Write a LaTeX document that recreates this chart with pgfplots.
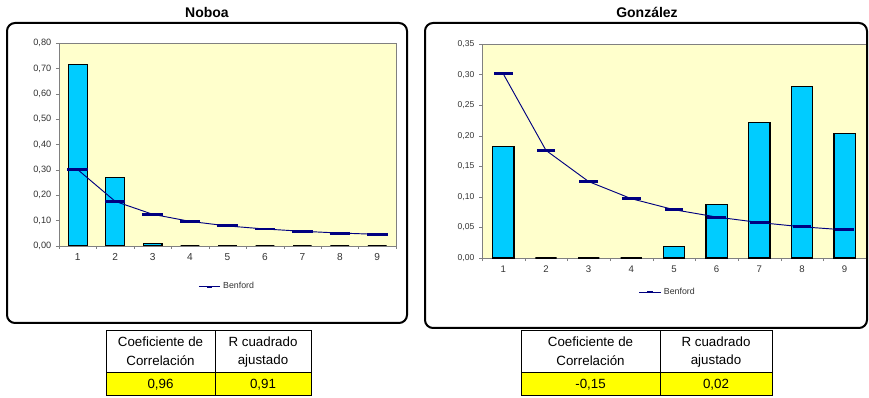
\documentclass[border=0pt]{standalone}
\usepackage{pgfplots}
\pgfplotsset{compat=1.18}
\usepackage{fontspec}
\setmainfont{Liberation Sans}
\definecolor{barcyan}{HTML}{00CCFF}
\definecolor{plotbg}{HTML}{FFFFCC}
\definecolor{benf}{HTML}{000080}
\definecolor{axgray}{HTML}{808080}
\definecolor{ticktext}{HTML}{333333}
\definecolor{tabyellow}{HTML}{FFFF00}
\pgfkeys{/pgf/number format/assume math mode=true}
\pgfplotsset{
  excel/.style={
    scale only axis,
    axis background/.style={fill=plotbg},
    axis line style={axgray},
    xmin=0.5, xmax=9.5, ymin=0,
    xtick={1,2,3,4,5,6,7,8,9},
    xticklabels={1,2,3,4,5,6,7,8,9},
    minor xtick={0.5,1.5,2.5,3.5,4.5,5.5,6.5,7.5,8.5,9.5},
    major x tick style={draw=none},
    minor x tick style={axgray},
    y tick style={axgray},
    tick align=outside, xtick pos=bottom, ytick pos=left,
    major tick length=2.25pt, minor tick length=2.25pt,
    yticklabel style={/pgf/number format/.cd, fixed, fixed zerofill, precision=2, use comma, /tikz/.cd, text=ticktext},
    xticklabel style={text=ticktext},
    legend style={draw=none, fill=none, font=\fontsize{6.6}{8}\selectfont, text=ticktext, inner sep=1pt},
    legend image code/.code={
      \draw[benf, line width=0.7pt] (0pt,0pt) -- (16pt,0pt);
      \draw[benf, line width=1.6pt] (6pt,0pt) -- (10pt,0pt);
    },
  }
}
\begin{document}
\begin{tikzpicture}
\useasboundingbox (0,0) rectangle (651.75pt,297.75pt);

% ---------- Left panel: Noboa ----------
\node[font=\bfseries\fontsize{10.5}{12}\selectfont] at (155.25pt,288.5pt) {Noboa};
\begin{axis}[excel,
  at={(44.25pt,113.25pt)}, anchor=south west,
  width=252.75pt, height=152.25pt,
  ymax=0.8, ytick={0,0.1,0.2,0.3,0.4,0.5,0.6,0.7,0.8},
  yticklabel style={font=\fontsize{6.9}{8}\selectfont},
  xticklabel style={font=\fontsize{7.6}{9}\selectfont},
  legend style={at={(0.5,-0.2)}, anchor=center},
]
\addplot[ybar, bar width=0.5, fill=barcyan, draw=black, line width=0.8pt, forget plot]
  coordinates {(1,0.715) (2,0.270) (3,0.010) (4,0) (5,0) (6,0) (7,0) (8,0) (9,0)};
\addplot[benf, line width=0.7pt, mark=-, mark size=7.7pt, mark options={line width=2.2pt}]
  coordinates {(1,0.301) (2,0.176) (3,0.125) (4,0.097) (5,0.079) (6,0.067) (7,0.058) (8,0.051) (9,0.046)};
\addlegendentry{Benford}
\end{axis}
\draw[black, line width=1.5pt, rounded corners=6pt] (5.25pt,55.5pt) rectangle (305.25pt,280.5pt);

% ---------- Right panel: González ----------
\node[font=\bfseries\fontsize{10.5}{12}\selectfont] at (485.25pt,288.5pt) {González};
\begin{axis}[excel,
  at={(361.5pt,104.25pt)}, anchor=south west,
  width=288pt, height=160.5pt,
  ymax=0.35, ytick={0,0.05,0.1,0.15,0.2,0.25,0.3,0.35},
  yticklabel style={font=\fontsize{6.4}{8}\selectfont},
  xticklabel style={font=\fontsize{7.2}{9}\selectfont},
  legend style={at={(0.485,-0.16)}, anchor=center},
]
\addplot[ybar, bar width=0.5, fill=barcyan, draw=black, line width=0.8pt, forget plot]
  coordinates {(1,0.183) (2,0) (3,0) (4,0) (5,0.019) (6,0.087) (7,0.222) (8,0.281) (9,0.204)};
\addplot[benf, line width=0.7pt, mark=-, mark size=7pt, mark options={line width=2.2pt}]
  coordinates {(1,0.301) (2,0.176) (3,0.125) (4,0.097) (5,0.079) (6,0.067) (7,0.058) (8,0.051) (9,0.046)};
\addlegendentry{Benford}
\end{axis}
\draw[black, line width=1.5pt, rounded corners=6pt] (318.75pt,51.75pt) rectangle (650.25pt,280.5pt);

% ---------- Tables ----------
\begin{scope}[font=\fontsize{10}{12}\selectfont]
% left
\fill[tabyellow] (79.5pt,1.5pt) rectangle (233.25pt,18.75pt);
\draw[black, line width=0.6pt] (79.5pt,1.5pt) rectangle (233.25pt,50.25pt);
\draw[black, line width=0.6pt] (79.5pt,18.75pt) -- (233.25pt,18.75pt);
\draw[black, line width=0.6pt] (161.25pt,1.5pt) -- (161.25pt,50.25pt);
\node at (120.4pt,41.25pt) {Coeficiente de};
\node at (120.4pt,27pt) {Correlación};
\node at (197.25pt,41.25pt) {R cuadrado};
\node at (197.25pt,27pt) {ajustado};
\node at (120.4pt,9.5pt) {0,96};
\node at (197.25pt,9.5pt) {0,91};
% right
\fill[tabyellow] (390.75pt,1.5pt) rectangle (579pt,18.75pt);
\draw[black, line width=0.6pt] (390.75pt,1.5pt) rectangle (579pt,50.25pt);
\draw[black, line width=0.6pt] (390.75pt,18.75pt) -- (579pt,18.75pt);
\draw[black, line width=0.6pt] (495pt,1.5pt) -- (495pt,50.25pt);
\node at (442.9pt,41.25pt) {Coeficiente de};
\node at (442.9pt,27pt) {Correlación};
\node at (537pt,41.25pt) {R cuadrado};
\node at (537pt,27pt) {ajustado};
\node at (442.9pt,9.5pt) {-0,15};
\node at (537pt,9.5pt) {0,02};
\end{scope}
\end{tikzpicture}
\end{document}
